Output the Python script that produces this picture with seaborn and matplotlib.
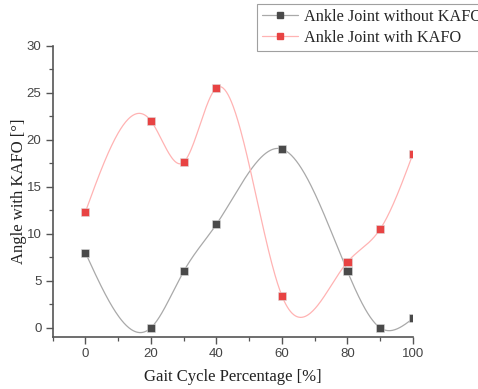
import numpy as np
import pandas as pd
import seaborn as sns
import matplotlib
matplotlib.use("Agg")
import matplotlib.pyplot as plt
from matplotlib.ticker import MultipleLocator
from matplotlib.lines import Line2D

# Gait cycle samples (% of cycle) and ankle angles (degrees)
gait_pct = [0, 20, 30, 40, 60, 80, 90, 100]
angle_without_kafo = [8.0, 0.0, 6.0, 11.0, 19.0, 6.0, 0.0, 1.0]
angle_with_kafo = [12.3, 22.0, 17.6, 25.5, 3.4, 7.0, 10.5, 18.5]
series_names = ["Ankle Joint without KAFO", "Ankle Joint with KAFO"]

line_colors = ["#a9a9a9", "#ffb3b3"]
marker_colors = ["#4a4a4a", "#e84343"]


def spline_curve(x, y, n=400):
    """Natural cubic spline through (x, y), evaluated on a dense grid."""
    x = np.asarray(x, float)
    y = np.asarray(y, float)
    k = len(x)
    h = np.diff(x)
    A = np.zeros((k, k))
    b = np.zeros(k)
    A[0, 0] = A[-1, -1] = 1.0
    for i in range(1, k - 1):
        A[i, i - 1] = h[i - 1]
        A[i, i] = 2 * (h[i - 1] + h[i])
        A[i, i + 1] = h[i]
        b[i] = 6 * ((y[i + 1] - y[i]) / h[i] - (y[i] - y[i - 1]) / h[i - 1])
    M = np.linalg.solve(A, b)
    xs = np.linspace(x[0], x[-1], n)
    idx = np.clip(np.searchsorted(x, xs) - 1, 0, k - 2)
    x0, x1 = x[idx], x[idx + 1]
    hh = x1 - x0
    t0, t1 = x1 - xs, xs - x0
    ys = (M[idx] * t0 ** 3 + M[idx + 1] * t1 ** 3) / (6 * hh) \
        + (y[idx] / hh - M[idx] * hh / 6) * t0 \
        + (y[idx + 1] / hh - M[idx + 1] * hh / 6) * t1
    return xs, ys


sns.set_theme(style="ticks")
plt.rcParams["font.family"] = ["Liberation Sans", "DejaVu Sans"]

fig = plt.figure(figsize=(4.78, 3.89), dpi=100)
ax = fig.add_axes([0.110, 0.133, 0.754, 0.750])

points = pd.DataFrame({
    "pct": gait_pct * 2,
    "angle": angle_without_kafo + angle_with_kafo,
    "series": [series_names[0]] * len(gait_pct) + [series_names[1]] * len(gait_pct),
})

for name, lc in zip(series_names, line_colors):
    sub = points[points["series"] == name]
    xs, ys = spline_curve(sub["pct"], sub["angle"])
    sns.lineplot(x=xs, y=ys, ax=ax, color=lc, linewidth=0.9, zorder=2)

sns.scatterplot(data=points, x="pct", y="angle", hue="series",
                palette=marker_colors, marker="s", s=34, linewidth=0.4,
                edgecolor="#dddddd", ax=ax, legend=False, zorder=3)

ax.set_xlim(-10, 100)
ax.set_ylim(-1, 30)
ax.xaxis.set_major_locator(MultipleLocator(20))
ax.xaxis.set_minor_locator(MultipleLocator(10))
ax.yaxis.set_major_locator(MultipleLocator(5))
ax.yaxis.set_minor_locator(MultipleLocator(2.5))

spine_c = "#555555"
for side in ["top", "right"]:
    ax.spines[side].set_visible(False)
for side in ["left", "bottom"]:
    ax.spines[side].set_color(spine_c)
    ax.spines[side].set_linewidth(1.2)

ax.tick_params(which="major", direction="out", length=5, width=1.0,
               color=spine_c, labelsize=9.5, labelcolor="#444444", pad=3)
ax.tick_params(which="minor", direction="out", length=3, width=0.9, color=spine_c)

label_font = dict(family=["Liberation Serif", "DejaVu Serif"], size=12, color="#222222")
ax.set_xlabel("Gait Cycle Percentage [%]", labelpad=6, **label_font)
ax.set_ylabel("Angle with KAFO [°]", labelpad=0, **label_font)

handles = [Line2D([], [], color=lc, lw=0.9, marker="s", markersize=5,
                  markerfacecolor=mc, markeredgecolor=mc)
           for lc, mc in zip(line_colors, marker_colors)]
leg = fig.legend(handles, series_names, loc="upper left",
                 bbox_to_anchor=(257 / 478, 1 - 4 / 389),
                 prop=dict(family=["Liberation Serif", "DejaVu Serif"], size=11.7),
                 frameon=True, fancybox=False, handlelength=2.2,
                 handletextpad=0.4, borderpad=0.3, labelspacing=0.3,
                 borderaxespad=0)
leg.get_frame().set_edgecolor("#888888")
leg.get_frame().set_linewidth(0.8)

fig.savefig("out.png", dpi=100)
